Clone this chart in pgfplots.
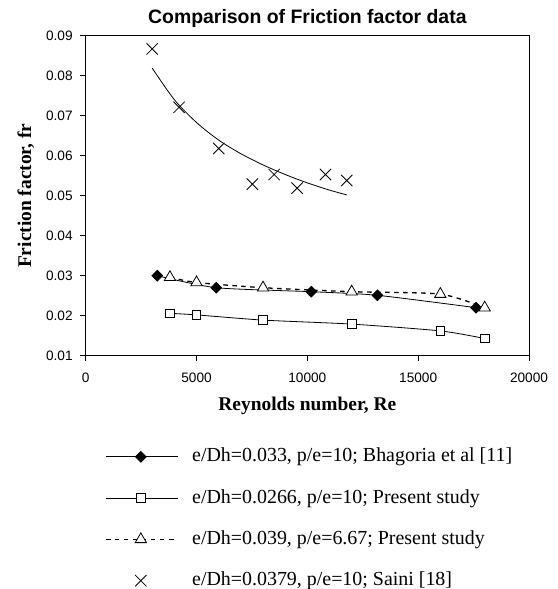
\documentclass[border=0pt]{standalone}
\usepackage{pgfplots}
\pgfplotsset{compat=1.18}
\usepackage{fontspec}
\setmainfont{Liberation Serif}
\newfontfamily\arial{Liberation Sans}
\pgfplotsset{marklegend/.style={legend image code/.code={\draw[##1] plot[only marks] coordinates {(35bp,0bp)};}}}
\begin{document}
\begin{tikzpicture}
\useasboundingbox (0,0) rectangle (558bp,589bp);
\begin{axis}[
  at={(85.7bp,233.3bp)}, anchor=south west,
  width=443.3bp, height=320bp, scale only axis,
  xmin=0, xmax=20000, ymin=0.01, ymax=0.09,
  scaled x ticks=false, scaled y ticks=false,
  xtick={0,5000,10000,15000,20000},
  xticklabels={0,5000,10000,15000,20000},
  ytick={0.01,0.02,0.03,0.04,0.05,0.06,0.07,0.08,0.09},
  yticklabels={0.01,0.02,0.03,0.04,0.05,0.06,0.07,0.08,0.09},
  tick align=outside, tick pos=left, major tick length=5.5bp,
  tick style={black, line width=0.8bp},
  axis line style={line width=0.8bp},
  /pgf/number format/assume math mode=true,
  tick label style={font=\arial\fontsize{13.7}{15}\selectfont},
  xticklabel style={yshift=-8bp},
  yticklabel style={xshift=-4bp},
  every axis title shift=0pt,
  title={Comparison of Friction factor data},
  title style={font=\arial\bfseries\fontsize{19.5}{22}\selectfont, at={(axis description cs:0.5,1)}, anchor=base, yshift=12.4bp},
  xlabel={Reynolds number, Re},
  xlabel style={font=\bfseries\fontsize{19.5}{22}\selectfont, at={(axis description cs:0.5,0)}, anchor=base, yshift=-55bp},
  ylabel={Friction factor, fr},
  ylabel style={font=\bfseries\fontsize{19.5}{22}\selectfont, at={(axis description cs:-0.135,0.5)}, anchor=center},
  legend style={draw=none, fill=none, at={(axis description cs:0.0435,-0.281)}, anchor=north west,
    font=\fontsize{20}{22}\selectfont, row sep=19.3bp, column sep=12bp, inner sep=0pt,
    nodes={inner sep=2pt, text height=14bp, text depth=4bp}},
  legend cell align=left,
  legend image code/.code={\draw[mark repeat=2,mark phase=2,#1] plot coordinates {(0bp,0bp) (35bp,0bp) (71.7bp,0bp)};},
  every axis plot/.append style={line width=0.8bp},
]
% Bhagoria et al
\addplot[black, smooth, tension=0.4, mark=square*, mark size=3.8bp, mark options={rotate=45, fill=black, solid}]
coordinates {(3230,0.0300) (5890,0.0270) (10180,0.0260) (13160,0.0251) (17610,0.0220)};
\addlegendentry{e/Dh=0.033, p/e=10; Bhagoria et al [11]}
% Present study, e/Dh = 0.0266
\addplot[black, smooth, tension=0.4, mark=square*, mark size=4.3bp, mark options={fill=white, solid}]
coordinates {(3800,0.0206) (5000,0.0202) (8000,0.0189) (12000,0.0179) (16000,0.0162) (18000,0.0143)};
\addlegendentry{e/Dh=0.0266, p/e=10; Present study}
% Present study, e/Dh = 0.039
\addplot[black, smooth, tension=0.4, dash pattern=on 4.5bp off 4.5bp, line width=1.3bp, mark=triangle*, mark size=6.5bp, mark options={fill=white, solid, line width=0.8bp}]
coordinates {(3800,0.0296) (5000,0.0283) (8000,0.0270) (12000,0.0260) (16000,0.0254) (18000,0.0220)};
\addlegendentry{e/Dh=0.039, p/e=6.67; Present study}
% Saini
\addplot[black, only marks, mark=x, mark size=8bp, marklegend]
coordinates {(3000,0.0867) (4210,0.0721) (6000,0.0618) (7520,0.0529) (8500,0.0553) (9540,0.0519) (10820,0.0553) (11780,0.0538)};
\addlegendentry{e/Dh=0.0379, p/e=10; Saini [18]}
% Saini power trendline
\addplot[black, smooth, forget plot] coordinates {(3000,0.0819) (4000,0.0740) (5000,0.0683) (6000,0.0639) (7000,0.0605) (8000,0.0577) (9000,0.0553) (10000,0.0532) (11000,0.0514) (11780,0.0502)};
\end{axis}
\end{tikzpicture}
\end{document}
